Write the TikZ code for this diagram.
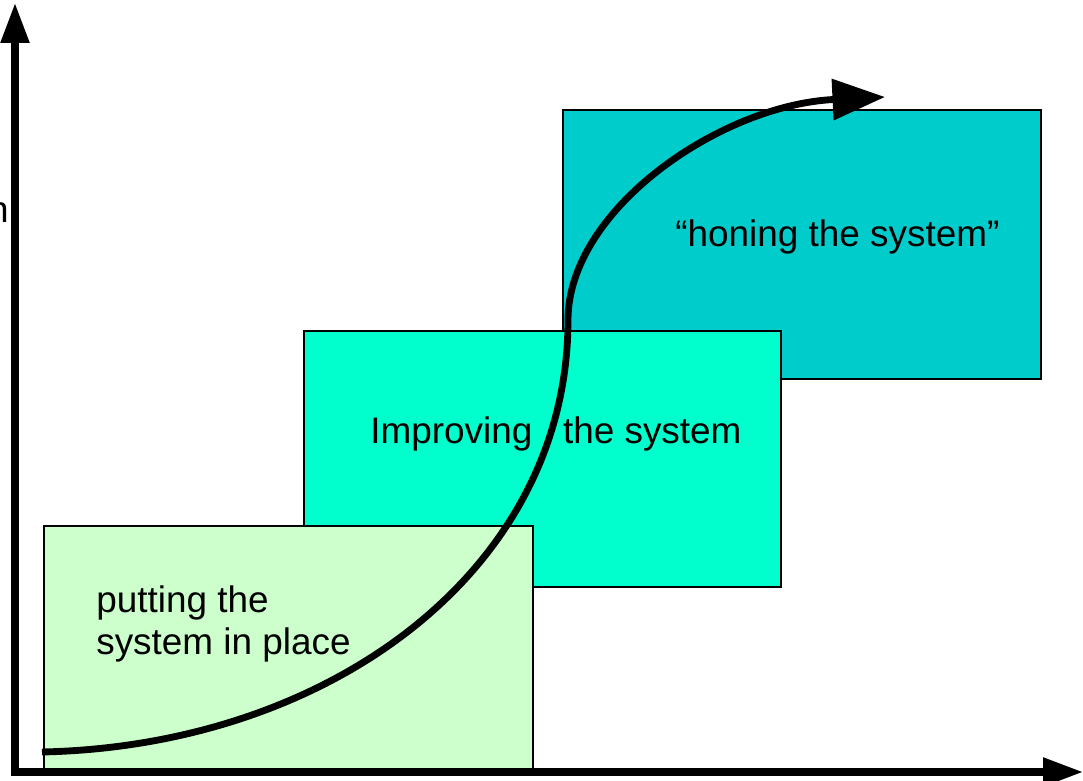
\documentclass[tikz,border=0pt]{standalone}
\usepackage{fontspec}
\setmainfont{Liberation Sans}
\usepackage{tikz}
\usetikzlibrary{positioning,arrows.meta}

\definecolor{placegreen}{HTML}{CCFFCC}
\definecolor{improvecyan}{HTML}{00FFCC}
\definecolor{honeteal}{HTML}{00CCCC}

\tikzset{
    stagebox/.style={draw=black, line width=1.1pt, anchor=north west, inner sep=0pt},
    stagetext/.style={anchor=base west, inner sep=0pt, font=\fontsize{21}{23.8}\selectfont, align=left},
    axisline/.style={line width=4pt, -{Triangle[length=0.8cm, width=0.55cm]}},
}

\begin{document}
\begin{tikzpicture}[x=0.02cm, y=-0.02cm]
    \useasboundingbox (0,0) rectangle (1083,781);
    % Axes
    \coordinate (origin) at (15,772);
    \coordinate (ytop) at (15,3);
    \coordinate (xend) at (1083,772);
    \draw[axisline] (origin) -- (ytop);
    \draw[axisline] ([xshift=-2pt]origin) -- (xend);
    \node[stagetext, anchor=base east] (ylabel) at (9,222) {n};
    % Boxes
    \node[stagebox, fill=honeteal, minimum width=478*0.02cm, minimum height=269*0.02cm] (hone) at (562,109) {};
    \node[stagebox, fill=improvecyan, minimum width=477*0.02cm, minimum height=256*0.02cm] (improve) at (303,330) {};
    \node[stagebox, fill=placegreen, minimum width=489*0.02cm, minimum height=243*0.02cm] (place) at (43,525) {};
    % Labels
    \node[stagetext] (placetext) at (96,654) {putting the\\system in place};
    \node[stagetext] (improvetext) at (370,443) {Improving\ \ \ the system};
    \node[stagetext] (honetext) at (675,246) {“honing the system”};
    % Curve
    \coordinate (start) at (42,752);
    \coordinate (bend) at (568,320);
    \coordinate (finish) at (885,97);
    \draw[line width=3.9pt] (start) .. controls (330,746) and (568,570) .. (bend);
    \draw[line width=3.9pt, -{Triangle[length=1.05cm, width=0.8cm]}] (bend) .. controls (568,210) and (720,105) .. (finish);
\end{tikzpicture}
\end{document}
